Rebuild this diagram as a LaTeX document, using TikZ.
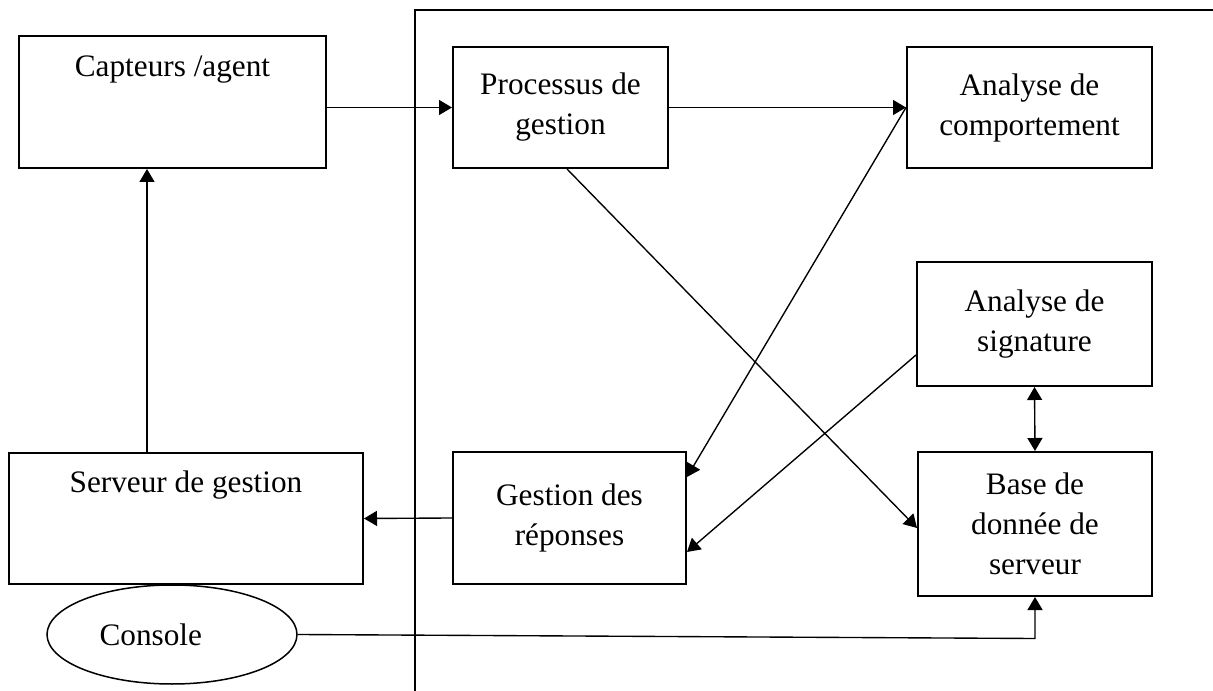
\documentclass[tikz,border=0pt]{standalone}
\usepackage{fontspec}
\setmainfont{Liberation Serif}
\usetikzlibrary{arrows.meta,shapes.geometric}

\tikzset{
    box/.style={draw, line width=0.8pt, align=center, inner sep=0pt},
    link/.style={line width=0.55pt},
}

\begin{document}
\begin{tikzpicture}[x=0.4pt,y=-0.4pt,font=\fontsize{12.5}{16}\selectfont,
    >={Triangle[length=5.2pt,width=6pt]}]
    \useasboundingbox (0,0) rectangle (1213,691);
    \draw[link] (415,691) -- (415,10) -- (1213,10);
    \node[box, minimum width=122.8pt, text height=16.4pt, text depth=36.4pt] (cap) at (172.5,102) {Capteurs /agent};
    \node[box, minimum width=141.6pt, text height=16pt, text depth=36.4pt] (serv) at (186,518.5) {Serveur de gestion};
    \node[box, minimum width=86pt, minimum height=48.4pt] (proc) at (560.5,107.5) {Processus de\\gestion};
    \node[box, minimum width=98pt, minimum height=48.4pt] (comp) at (1029.5,107.5) {Analyse de\\comportement};
    \node[box, minimum width=94pt, minimum height=49.6pt] (sig) at (1034.5,324) {Analyse de\\signature};
    \node[box, minimum width=93.6pt, minimum height=57.6pt] (base) at (1035,524) {Base de\\donnée de\\serveur};
    \node[box, minimum width=93.2pt, minimum height=52.8pt] (gest) at (569.5,518) {Gestion des\\réponses};
    \node[draw, ellipse, line width=0.6pt, inner sep=0pt, minimum width=100pt, minimum height=39.6pt] (con) at (172,634.5) {Console\hspace*{17pt}};
    \draw[link,->] (cap.east |- proc.west) -- (proc.west);
    \draw[link,->] (proc.east) -- (comp.west);
    \draw[link,->] (comp.west) -- ([yshift=16.4pt]gest.east);
    \draw[link,->] ([xshift=2.6pt]proc.south) -- ([yshift=-1.6pt]base.west);
    \draw[link,->] ([yshift=-12.4pt]sig.west) -- ([yshift=-13.6pt]gest.east);
    \draw[link,<->] (sig.south) -- (base.north);
    \draw[link,->] (gest.west) -- (serv.east);
    \draw[link,->] ([xshift=-15.6pt]serv.north) -- ([xshift=-15.6pt]serv.north |- cap.south);
    \draw[link,->] (con.east) -- ([yshift=-1.6pt]base.south |- con.east) -- (base.south);
\end{tikzpicture}
\end{document}
